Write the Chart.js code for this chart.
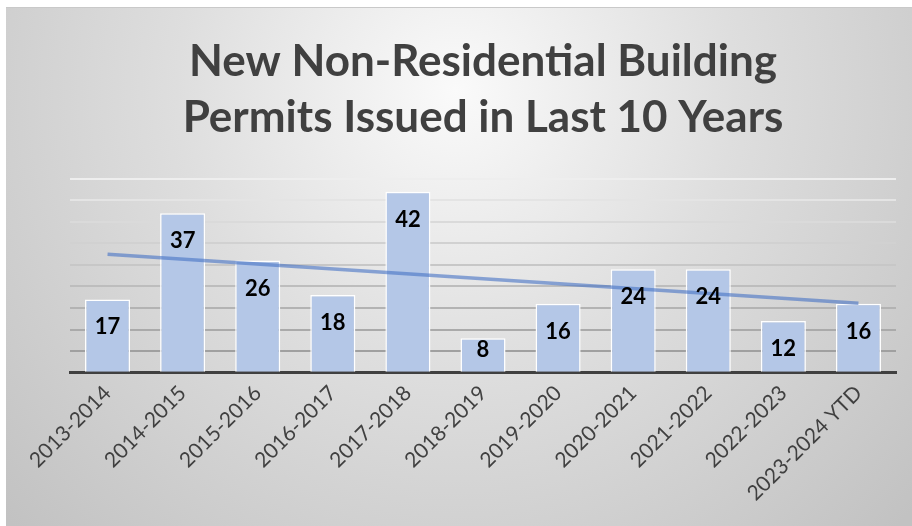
<!DOCTYPE html>
<html>
<head>
<meta charset="utf-8">
<script src="https://cdn.jsdelivr.net/npm/chart.js@4"></script>
<style>
  html, body { margin: 0; padding: 0; background: #fff; }
  #wrap { width: 912px; height: 526px; }
</style>
</head>
<body>
<div id="wrap"><canvas id="permits" width="912" height="526"></canvas></div>
<script>
const years = ["2013-2014","2014-2015","2015-2016","2016-2017","2017-2018","2018-2019",
               "2019-2020","2020-2021","2021-2022","2022-2023","2023-2024 YTD"]
const permits = [17, 37, 26, 18, 42, 8, 16, 24, 24, 12, 16]
// trendline ends
const trend = [27.5, null, null, null, null, null, null, null, null, null, 16.1]
const titleLines = ["New Non-Residential Building", "Permits Issued in Last 10 Years"]

// gradient background + frame
const bgPlugin = {
    id: "bg",
    beforeDraw(chart) {
        const c = chart.ctx
        c.save()
        c.fillStyle = "#ffffff"
        c.fillRect(0, 0, chart.width, chart.height)
        const g = c.createRadialGradient(456, 90, 0, 456, 90, 620)
        g.addColorStop(0, "#fafafa")
        g.addColorStop(0.45, "#dedede")
        g.addColorStop(1, "#c2c2c2")
        c.fillStyle = g
        c.fillRect(6, 7, 906, 519)
        c.fillStyle = "#c9c9c9"
        c.fillRect(6, 7, 906, 1)
        c.restore()
    }
}

// value labels near the top inside each bar (bar dataset is index 1)
const labelPlugin = {
    id: "vals",
    afterDraw(chart) {
        const c = chart.ctx
        const meta = chart.getDatasetMeta(1)
        c.save()
        c.font = "bold 22px Lato"
        c.fillStyle = "#000000"
        c.textAlign = "center"
        c.textBaseline = "middle"
        meta.data.forEach((bar, i) => {
            const y = Math.min(bar.y + 28, bar.base - 22)
            c.fillText(String(permits[i]), bar.x, y)
        })
        c.restore()
    }
}

const gridShade = ctx => {
    const v = ctx.tick ? ctx.tick.value : 0
    const t = v / 45
    const from = [150, 150, 150], to = [238, 238, 238]
    const rgb = from.map((a, k) => Math.round(a + (to[k] - a) * t))
    return `rgb(${rgb.join(",")})`
}

new Chart(document.getElementById("permits"), {
    data: {
        labels: years,
        datasets: [
            {
                type: "line",
                data: trend,
                spanGaps: true,
                borderColor: "rgba(68,114,196,0.6)",
                borderWidth: 3.5,
                pointRadius: 0,
                order: 0
            },
            {
                type: "bar",
                data: permits,
                backgroundColor: "#b4c7e7",
                borderColor: "#ffffff",
                borderWidth: 1.5,
                barPercentage: 0.6,
                categoryPercentage: 1,
                order: 1
            }
        ]
    },
    options: {
        responsive: false,
        animation: false,
        layout: { padding: { top: 10, left: 70, right: 16, bottom: 12 } },
        plugins: {
            legend: { display: false },
            tooltip: { enabled: false },
            title: {
                display: true,
                text: titleLines,
                color: "#404040",
                font: { family: "Lato", size: 44, weight: "bold", lineHeight: 1.27 },
                padding: { top: 24, bottom: 33 }
            }
        },
        scales: {
            x: {
                grid: { display: false, drawTicks: false },
                border: { display: true, color: "#404040", width: 3 },
                ticks: {
                    color: "#404040",
                    font: { family: "Lato", size: 21 },
                    minRotation: 45,
                    maxRotation: 45,
                    autoSkip: false,
                    padding: 8
                }
            },
            y: {
                min: 0,
                max: 45,
                ticks: { display: false, stepSize: 5 },
                border: { display: false },
                grid: { color: gridShade, lineWidth: 2, drawTicks: false }
            }
        }
    },
    plugins: [bgPlugin, labelPlugin]
})
</script>
</body>
</html>
